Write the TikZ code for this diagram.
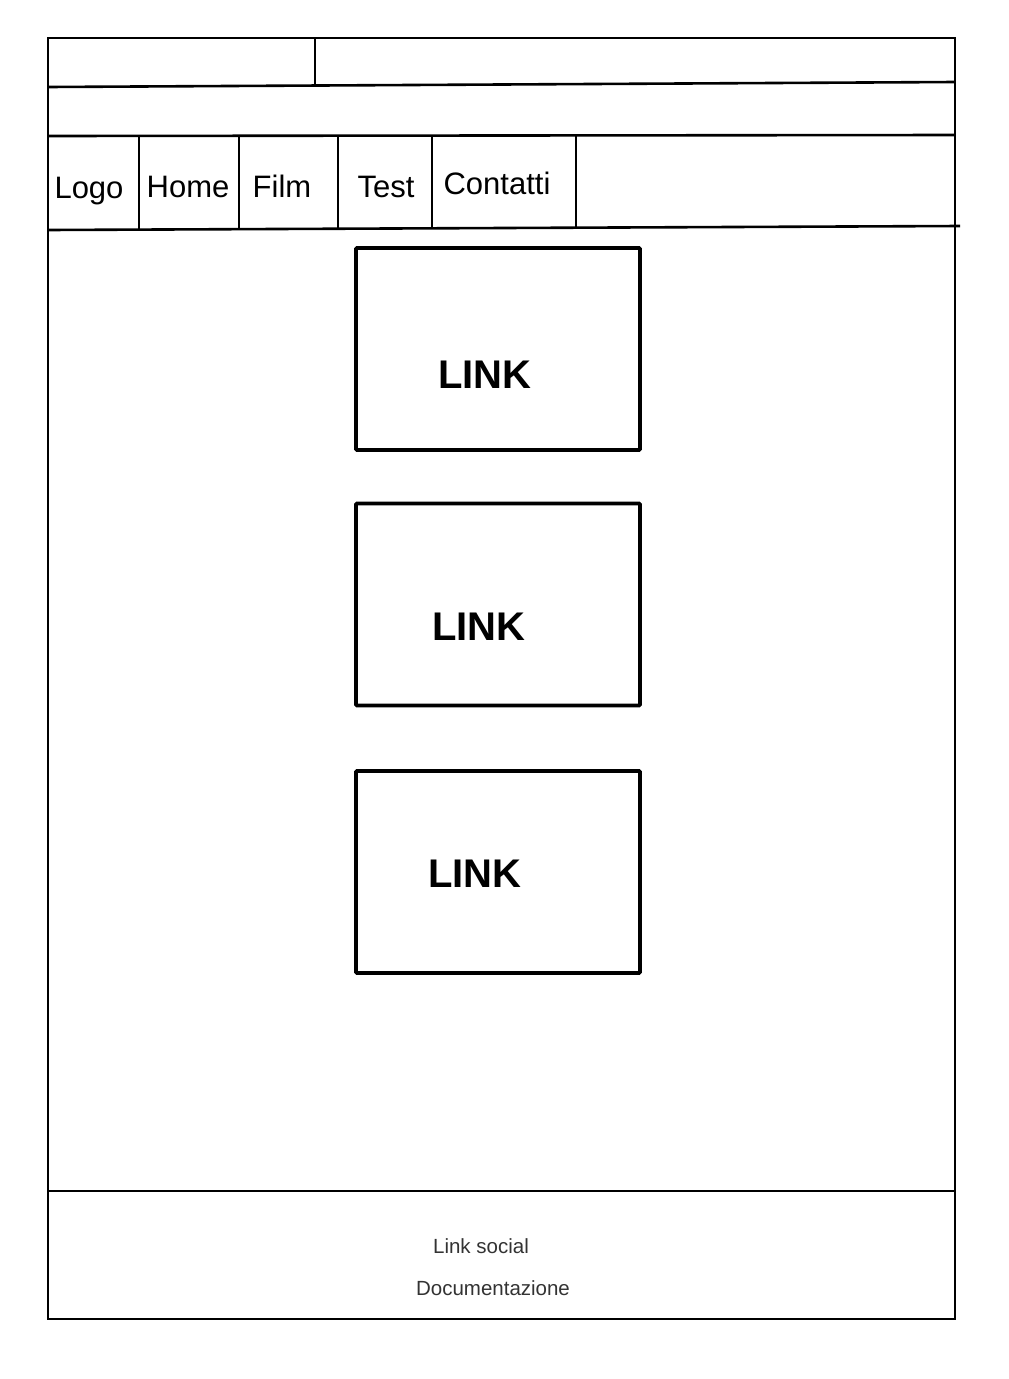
\documentclass[tikz,border=0pt]{standalone}
\usepackage{fontspec}
\setmainfont{Liberation Sans}
\begin{document}
\begin{tikzpicture}[x=1pt,y=-1pt,
  frame/.style={line width=2.6pt,black},
  div/.style={line width=2.2pt,black},
  linkbox/.style={draw,line width=3.6pt,rounded corners=1pt,minimum width=284pt,minimum height=202pt,inner sep=0pt},
  navtxt/.style={font=\fontsize{31}{31}\selectfont,inner sep=0pt,anchor=base},
  linktxt/.style={font=\fontsize{40}{40}\selectfont\bfseries,inner sep=0pt},
  foottxt/.style={font=\fontsize{20.5}{20.5}\selectfont,text=black!80,inner sep=0pt}]
\useasboundingbox (0,0) rectangle (1009,1379);
% outer frame
\draw[frame] (48,38) rectangle (955,1319);
% header rows
\draw[frame] (48,87) -- (955,82);
\draw[div] (315,38) -- (315,87);
\draw[frame] (48,136) -- (955,135);
\draw[frame] (48,230) -- (960,226);
% nav dividers
\foreach \xx/\yb in {139/230,239/230,338/229,432/228,576/227}
  \draw[div] (\xx,136) -- (\xx,\yb);
% nav texts
\node[navtxt] (logo) at (89,198) {Logo};
\node[navtxt] (home) at (188,197) {Home};
\node[navtxt] (film) at (282,197) {Film};
\node[navtxt] (test) at (386,197) {Test};
\node[navtxt] (contatti) at (497,194) {Contatti};
% link boxes
\node[linkbox] (box1) at (498,349) {};
\node[linkbox] (box2) at (498,604.5) {};
\node[linkbox] (box3) at (498,872) {};
\node[linktxt] (l1) at (485,375) {LINK};
\node[linktxt] (l2) at (479,627) {LINK};
\node[linktxt] (l3) at (475,874) {LINK};
% footer
\draw[div] (48,1191) -- (955,1191);
\node[foottxt] (social) at (481,1246) {Link social};
\node[foottxt] (doc) at (493,1288) {Documentazione};
\end{tikzpicture}
\end{document}
